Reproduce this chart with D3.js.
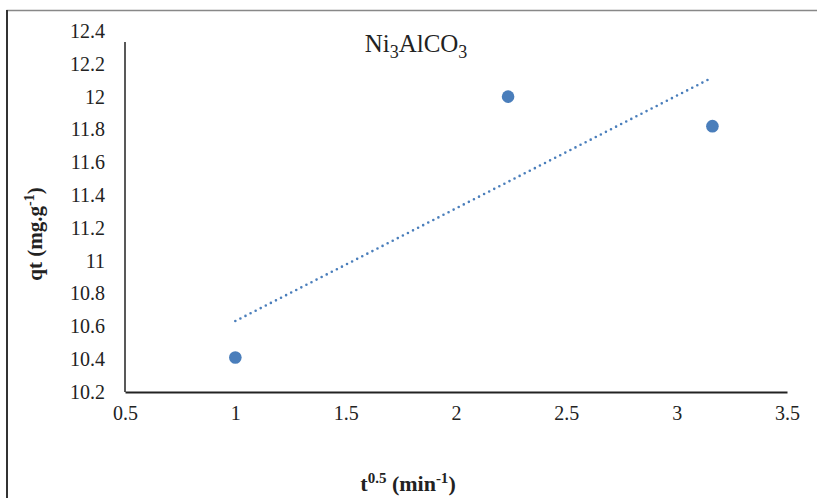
<!DOCTYPE html>
<html>
<head>
<meta charset="utf-8">
<script src="https://cdn.jsdelivr.net/npm/d3@7"></script>
<style>
  html, body { margin: 0; padding: 0; background: #fff; }
  svg { display: block; }
  text { font-family: "Liberation Serif", "Times New Roman", serif; fill: #222; }
</style>
</head>
<body>
<svg id="chart" width="817" height="498"></svg>
<script>
// Intraparticle diffusion data: sqrt(t) vs adsorbed amount qt
const sqrtTime = [1, 2.236, 3.162];
const qtValues = [10.41, 12.0, 11.82];
const xTicks = [0.5, 1, 1.5, 2, 2.5, 3, 3.5];
const yTicks = [10.2, 10.4, 10.6, 10.8, 11, 11.2, 11.4, 11.6, 11.8, 12, 12.2, 12.4];

const svg = d3.select("#chart");
const W = 817, H = 498;

const x = d3.scaleLinear().domain([0.5, 3.5]).range([125, 787]);
const y = d3.scaleLinear().domain([10.2, 12.4]).range([392, 31]);

const blue = "#4a7ebb";

// outer frame (only the top and left edges fall inside the view)
svg.append("line").attr("x1", 6.5).attr("x2", W + 5).attr("y1", 10.5).attr("y2", 10.5)
  .attr("stroke", "#888").attr("stroke-width", 1.5);
svg.append("line").attr("x1", 7).attr("x2", 7).attr("y1", 10).attr("y2", H + 5)
  .attr("stroke", "#333").attr("stroke-width", 2);

// x axis
const xAxis = d3.axisBottom(x).tickValues(xTicks).tickSize(0).tickPadding(14)
  .tickFormat(d => String(d));
const gx = svg.append("g").attr("transform", `translate(0,${y(10.2)})`).call(xAxis);
gx.select(".domain").attr("stroke", "#222").attr("stroke-width", 1.8);
gx.selectAll("text").attr("font-size", 20).attr("font-family", "Liberation Serif").attr("fill", "#222");

// y axis
const yAxis = d3.axisLeft(y).tickValues(yTicks).tickSize(0).tickPadding(20)
  .tickFormat(d => String(d));
const gy = svg.append("g").attr("transform", `translate(${x(0.5)},0)`).call(yAxis);
gy.select(".domain").remove();
gy.append("line").attr("x1", 0).attr("x2", 0).attr("y1", 42).attr("y2", y(10.2))
  .attr("stroke", "#222").attr("stroke-width", 1.5);
gy.selectAll("text").attr("font-size", 20).attr("font-family", "Liberation Serif").attr("fill", "#222");

// linear trend line (least squares)
const n = sqrtTime.length;
const mx = d3.mean(sqrtTime), my = d3.mean(qtValues);
let sxy = 0, sxx = 0;
for (let i = 0; i < n; i++) {
  sxy += (sqrtTime[i] - mx) * (qtValues[i] - my);
  sxx += (sqrtTime[i] - mx) ** 2;
}
const slope = sxy / sxx, intercept = my - slope * mx;
const xExt = d3.extent(sqrtTime);
svg.append("line")
  .attr("x1", x(xExt[0])).attr("y1", y(intercept + slope * xExt[0]))
  .attr("x2", x(xExt[1])).attr("y2", y(intercept + slope * xExt[1]))
  .attr("stroke", blue).attr("stroke-width", 2.6)
  .attr("stroke-linecap", "round").attr("stroke-dasharray", "0 5.7");

// data points
svg.append("g").selectAll("circle")
  .data(sqrtTime.map((t, i) => ({ t, q: qtValues[i] })))
  .join("circle")
  .attr("cx", d => x(d.t)).attr("cy", d => y(d.q)).attr("r", 6.3)
  .attr("fill", blue);

// series title
const title = svg.append("text").attr("x", 416).attr("y", 52)
  .attr("text-anchor", "middle").attr("font-size", 25);
title.append("tspan").text("Ni");
title.append("tspan").text("3").attr("font-size", 18).attr("dy", 6);
title.append("tspan").text("AlCO").attr("dy", -6);
title.append("tspan").text("3").attr("font-size", 18).attr("dy", 6);

// axis titles
const xl = svg.append("text").attr("x", 408).attr("y", 491)
  .attr("text-anchor", "middle").attr("font-size", 22).attr("font-weight", "bold");
xl.append("tspan").text("t");
xl.append("tspan").text("0.5").attr("font-size", 15).attr("dy", -8);
xl.append("tspan").text(" (min").attr("dy", 8);
xl.append("tspan").text("-1").attr("font-size", 15).attr("dy", -8);
xl.append("tspan").text(")").attr("dy", 8);

const yl = svg.append("text").attr("transform", "translate(42,234) rotate(-90)")
  .attr("text-anchor", "middle").attr("font-size", 21).attr("font-weight", "bold");
yl.append("tspan").text("qt (mg.g");
yl.append("tspan").text("-1").attr("font-size", 14).attr("dy", -8);
yl.append("tspan").text(")").attr("dy", 8);
</script>
</body>
</html>
